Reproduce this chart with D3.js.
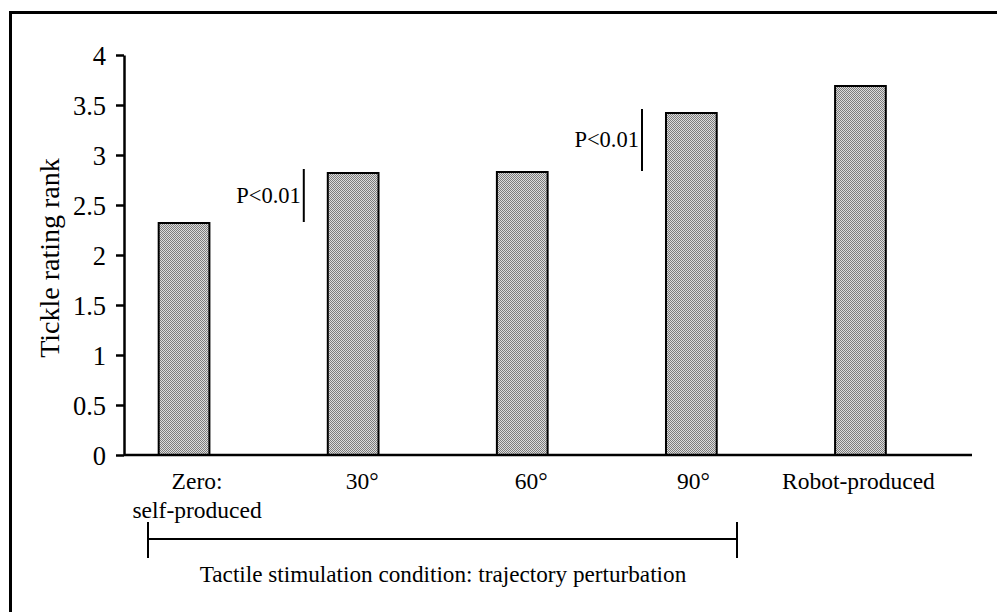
<!DOCTYPE html>
<html>
<head>
<meta charset="utf-8">
<script src="https://cdn.jsdelivr.net/npm/d3@7"></script>
<style>
  body { margin: 0; background: #fff; }
  svg text { font-family: "Liberation Serif", "Times New Roman", serif; fill: #000; }
</style>
</head>
<body>
<svg id="chart" width="997" height="612"></svg>
<script>
// data
var conditions = ["zero", "30", "60", "90", "robot"];
var labelLines = [["Zero:", "self-produced"], ["30°"], ["60°"], ["90°"], ["Robot-produced"]];
var ratings = [2.32, 2.82, 2.83, 3.42, 3.69];
var yTicks = [0, 0.5, 1, 1.5, 2, 2.5, 3, 3.5, 4];
// pairs that are marked significant: [lower bar, higher bar, text]
var sigPairs = [[0, 1, "P<0.01"], [2, 3, "P<0.01"]];
var labelShift = [13, 9, 9, 2, -2];

var svg = d3.select("#chart");

// checker fill like the printed bars
var defs = svg.append("defs");
var pat = defs.append("pattern")
  .attr("id", "checker")
  .attr("width", 2).attr("height", 2)
  .attr("patternUnits", "userSpaceOnUse");
pat.append("rect").attr("width", 2).attr("height", 2).attr("fill", "#dcdcdc");
pat.append("rect").attr("x", 0).attr("y", 0).attr("width", 1).attr("height", 1).attr("fill", "#7c7c7c");
pat.append("rect").attr("x", 1).attr("y", 1).attr("width", 1).attr("height", 1).attr("fill", "#7c7c7c");

// frame (runs off the right and bottom edge)
svg.append("path")
  .attr("d", "M10.5,612 V12.5 H997")
  .attr("fill", "none")
  .attr("stroke", "#000")
  .attr("stroke-width", 3);

var x = d3.scaleBand()
  .domain(conditions)
  .range([99.5, 945])
  .paddingInner(0.7)
  .paddingOuter(0.35);

var y = d3.scaleLinear()
  .domain([0, 4])
  .range([455, 55]);

// y axis
var yAxis = svg.append("g")
  .attr("transform", "translate(124,0)")
  .call(d3.axisLeft(y).tickValues(yTicks).tickSize(8).tickPadding(10).tickSizeOuter(0)
    .tickFormat(d => d3.format("")(d)));
yAxis.select(".domain").attr("stroke-width", 2.5);
yAxis.selectAll(".tick line").attr("stroke-width", 2.5);
yAxis.selectAll(".tick text")
  .style("font-size", "26.5px")
  .attr("dy", "0.34em");

svg.append("text")
  .attr("transform", "translate(59," + y(1.97) + ") rotate(-90)")
  .attr("text-anchor", "middle")
  .style("font-size", "28px")
  .text("Tickle rating rank");

// bars
svg.append("g").selectAll("rect")
  .data(ratings)
  .enter().append("rect")
  .attr("x", (d, i) => x(conditions[i]))
  .attr("y", d => y(d))
  .attr("width", x.bandwidth())
  .attr("height", d => y(0) - y(d))
  .attr("fill", "url(#checker)")
  .attr("stroke", "#000")
  .attr("stroke-width", 2);

// x axis line
svg.append("line")
  .attr("x1", 124).attr("x2", 972)
  .attr("y1", y(0)).attr("y2", y(0))
  .attr("stroke", "#000")
  .attr("stroke-width", 2.5);

// category labels
var lab = svg.append("g").selectAll("text")
  .data(labelLines)
  .enter().append("text")
  .attr("text-anchor", "middle")
  .style("font-size", "23.5px")
  .attr("transform", (d, i) => "translate(" + (x(conditions[i]) + x.bandwidth() / 2 + labelShift[i]) + ",489)");
lab.selectAll("tspan")
  .data(d => d)
  .enter().append("tspan")
  .attr("x", 0)
  .attr("y", (d, j) => j * 29)
  .text(d => d);

// significance markers, drawn just left of the higher bar
sigPairs.forEach(function (p) {
  var lx = x(conditions[p[1]]) - 24;
  var yTop = y(Math.max(ratings[p[0]], ratings[p[1]])) - 4;
  var yBot = y(Math.min(ratings[p[0]], ratings[p[1]])) - 1;
  svg.append("line")
    .attr("x1", lx).attr("x2", lx)
    .attr("y1", yTop).attr("y2", yBot)
    .attr("stroke", "#000").attr("stroke-width", 2);
  svg.append("text")
    .attr("x", lx - 3)
    .attr("y", (yTop + yBot) / 2 + 7)
    .attr("text-anchor", "end")
    .style("font-size", "22.5px")
    .text(p[2]);
});

// range bracket under the perturbation conditions
var bx1 = 148, bx2 = 737, by = 539;
var br = svg.append("g").attr("stroke", "#000").attr("stroke-width", 2);
br.append("line").attr("x1", bx1).attr("x2", bx2).attr("y1", by).attr("y2", by);
br.append("line").attr("x1", bx1).attr("x2", bx1).attr("y1", by - 17).attr("y2", by + 19);
br.append("line").attr("x1", bx2).attr("x2", bx2).attr("y1", by - 17).attr("y2", by + 19);

svg.append("text")
  .attr("x", 443)
  .attr("y", 582)
  .attr("text-anchor", "middle")
  .style("font-size", "23.2px")
  .text("Tactile stimulation condition: trajectory perturbation");
</script>
</body>
</html>
